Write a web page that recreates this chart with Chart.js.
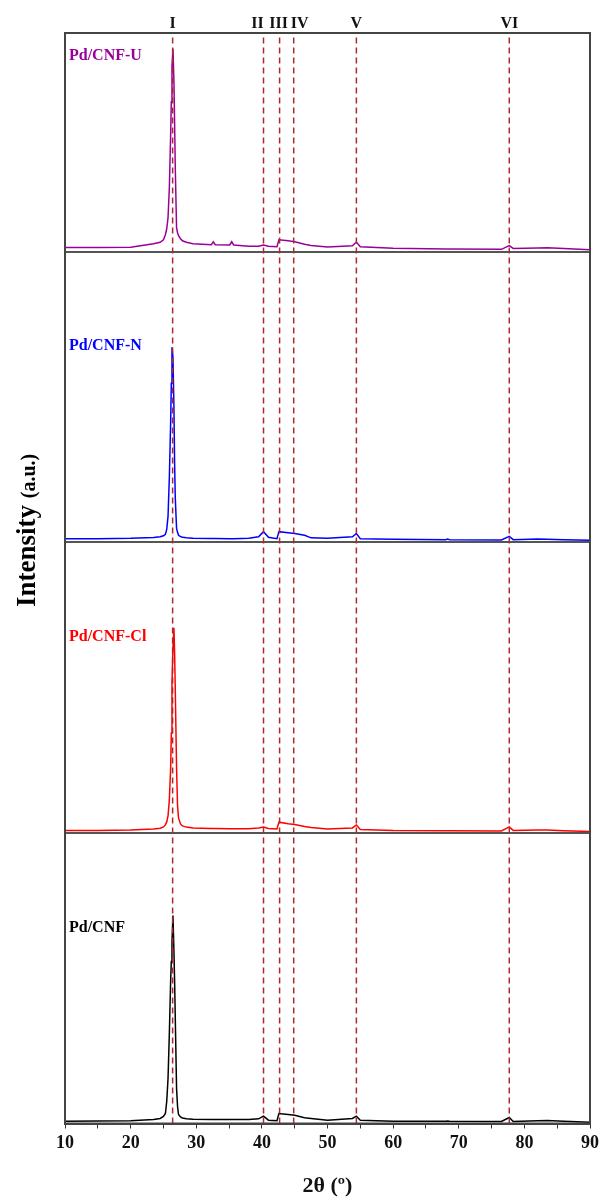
<!DOCTYPE html>
<html>
<head>
<meta charset="utf-8">
<script src="https://cdn.jsdelivr.net/npm/chart.js@4.4.0/dist/chart.umd.min.js"></script>
<style>
  html, body { margin: 0; padding: 0; background: #fff; }
</style>
</head>
<body>
<canvas id="xrd" width="603" height="1201"></canvas>
<script>
// 2θ grid shared by all four patterns
const angles = [10, 15, 20, 23.5, 24.5, 25.0, 25.3, 25.5, 25.7, 25.9, 26.1, 26.2, 26.3, 26.45, 26.6, 26.7,
  26.8, 27.0, 27.15, 27.3, 27.6, 27.9, 28.5, 29.5,
  32.3, 32.6, 32.9, 35.1, 35.4, 35.7, 38, 39.5, 40.25, 41, 42.3, 42.6, 44.0, 45.0, 46.5, 47.5, 50,
  53.8, 54.4, 55.0, 60, 68, 68.3, 68.6, 76.5, 77.7, 78.3, 82, 83.5, 86, 90];

// intensities (a.u.)
const cnf   = [23, 24, 28, 40, 50, 70, 100, 220, 450, 900, 1430, 1620, 1820, 2080, 1720, 1430,
  1070, 350, 170, 90, 65, 55, 48, 42,
  40, 40, 40, 40, 40, 40, 40, 47, 73, 33, 27, 100, 90, 83, 58, 50, 33,
  50, 73, 33, 23, 23, 25, 23, 20, 60, 20, 28, 30, 22, 13];
const cnfCl = [23, 25, 30, 40, 47, 60, 80, 110, 170, 330, 650, 1000, 1500, 1850, 2050, 1800,
  1450, 650, 270, 150, 90, 70, 58, 50,
  45, 45, 45, 42, 42, 42, 42, 50, 60, 45, 40, 107, 92, 85, 65, 55, 40,
  50, 80, 35, 25, 22, 22, 22, 20, 60, 25, 30, 30, 22, 13];
const cnfN  = [37, 36, 40, 48, 55, 65, 80, 130, 260, 650, 1200, 1590, 1950, 1850, 1350, 800,
  450, 140, 100, 70, 58, 50, 46, 42,
  38, 38, 38, 37, 37, 37, 40, 55, 107, 50, 37, 107, 97, 88, 70, 45, 40,
  55, 88, 37, 30, 27, 32, 27, 23, 60, 27, 33, 30, 25, 20];
const cnfU  = [43, 42, 45, 80, 95, 120, 170, 230, 340, 640, 1170, 1500, 1850, 2030, 1700, 1300,
  850, 240, 190, 160, 130, 110, 95, 80,
  70, 100, 70, 68, 100, 68, 55, 55, 68, 55, 50, 120, 110, 100, 75, 62, 48,
  60, 97, 50, 35, 28, 28, 28, 24, 62, 33, 38, 40, 32, 20];

const samples = ['Pd/CNF', 'Pd/CNF-Cl', 'Pd/CNF-N', 'Pd/CNF-U'];
const sampleData = [cnf, cnfCl, cnfN, cnfU];
const sampleColors = ['#000000', '#ff0000', '#0000ff', '#990099'];

const peakPositions = [26.4, 40.25, 42.7, 44.85, 54.4, 77.7];
const peakLabels = ['I', 'II', 'III', 'IV', 'V', 'VI'];
const labelNudge = [0, -6, -1, 6, 0, 0];

const panelStep = 2905;   // vertical offset between stacked patterns
const yTop = 10902;
const serif = '"Liberation Serif", "DejaVu Serif", serif';

const datasets = [];

sampleData.forEach((vals, i) => {
  datasets.push({
    label: samples[i],
    data: angles.map((a, j) => ({ x: a, y: vals[j] + i * panelStep })),
    borderColor: sampleColors[i],
    borderWidth: 1.5,
    pointRadius: 0,
    tension: 0,
    order: 2
  });
});

peakPositions.forEach((p, i) => {
  datasets.push({
    label: peakLabels[i],
    data: [{ x: p, y: 0 }, { x: p, y: yTop }],
    borderColor: '#ab282c',
    borderWidth: 1.5,
    borderDash: [6, 4],
    pointRadius: 0,
    order: 1
  });
});

const decorations = {
  id: 'decorations',
  afterDraw(chart) {
    const { ctx, chartArea: a, scales: { x, y } } = chart;
    ctx.save();
    ctx.strokeStyle = '#444';
    ctx.lineWidth = 2;
    ctx.strokeRect(a.left, a.top, a.right - a.left, a.bottom - a.top);

    // peak labels along the top
    ctx.fillStyle = '#111';
    ctx.font = 'bold 16px ' + serif;
    ctx.textAlign = 'center';
    ctx.textBaseline = 'middle';
    peakLabels.forEach((t, i) => {
      ctx.fillText(t, x.getPixelForValue(peakPositions[i]) + labelNudge[i], 24);
    });

    // sample names
    ctx.textAlign = 'left';
    samples.forEach((s, i) => {
      ctx.fillStyle = sampleColors[i];
      ctx.fillText(s, a.left + 4, y.getPixelForValue(i * panelStep + 1960));
    });

    // y title
    ctx.translate(35, 607);
    ctx.rotate(-Math.PI / 2);
    ctx.fillStyle = '#000';
    ctx.textBaseline = 'alphabetic';
    ctx.font = 'bold 27px ' + serif;
    ctx.fillText('Intensity', 0, 0);
    const w = ctx.measureText('Intensity ').width;
    ctx.font = 'bold 20px ' + serif;
    ctx.fillText('(a.u.)', w, 0);
    ctx.restore();
  }
};

new Chart(document.getElementById('xrd'), {
  type: 'line',
  data: { datasets },
  options: {
    responsive: false,
    animation: false,
    layout: { padding: { left: 65, right: 10, top: 33, bottom: 0 } },
    plugins: { legend: { display: false }, tooltip: { enabled: false } },
    scales: {
      x: {
        type: 'linear',
        min: 10,
        max: 90,
        afterFit: (s) => { s.height = 77.5; },
        ticks: {
          stepSize: 5,
          autoSkip: false,
          maxRotation: 0,
          padding: 4,
          color: '#111',
          font: { family: serif, size: 18, weight: 'bold' },
          callback: (v) => (v % 10 === 0 ? v : '')
        },
        grid: { drawOnChartArea: false, tickLength: 5, color: '#333' },
        border: { display: true, color: '#444', width: 2 },
        title: {
          display: true,
          text: '2θ (º)',
          color: '#111',
          font: { family: serif, size: 22, weight: 'bold' },
          padding: { top: 0, bottom: 1 }
        }
      },
      y: {
        min: 0,
        max: yTop,
        afterFit: (s) => { s.width = 0; },
        afterBuildTicks: (s) => {
          s.ticks = [panelStep, 2 * panelStep, 3 * panelStep].map(v => ({ value: v }));
        },
        ticks: { display: false },
        grid: { color: '#555', lineWidth: 2, drawTicks: false },
        border: { display: true, color: '#444', width: 2 }
      }
    }
  },
  plugins: [decorations]
});
</script>
</body>
</html>
